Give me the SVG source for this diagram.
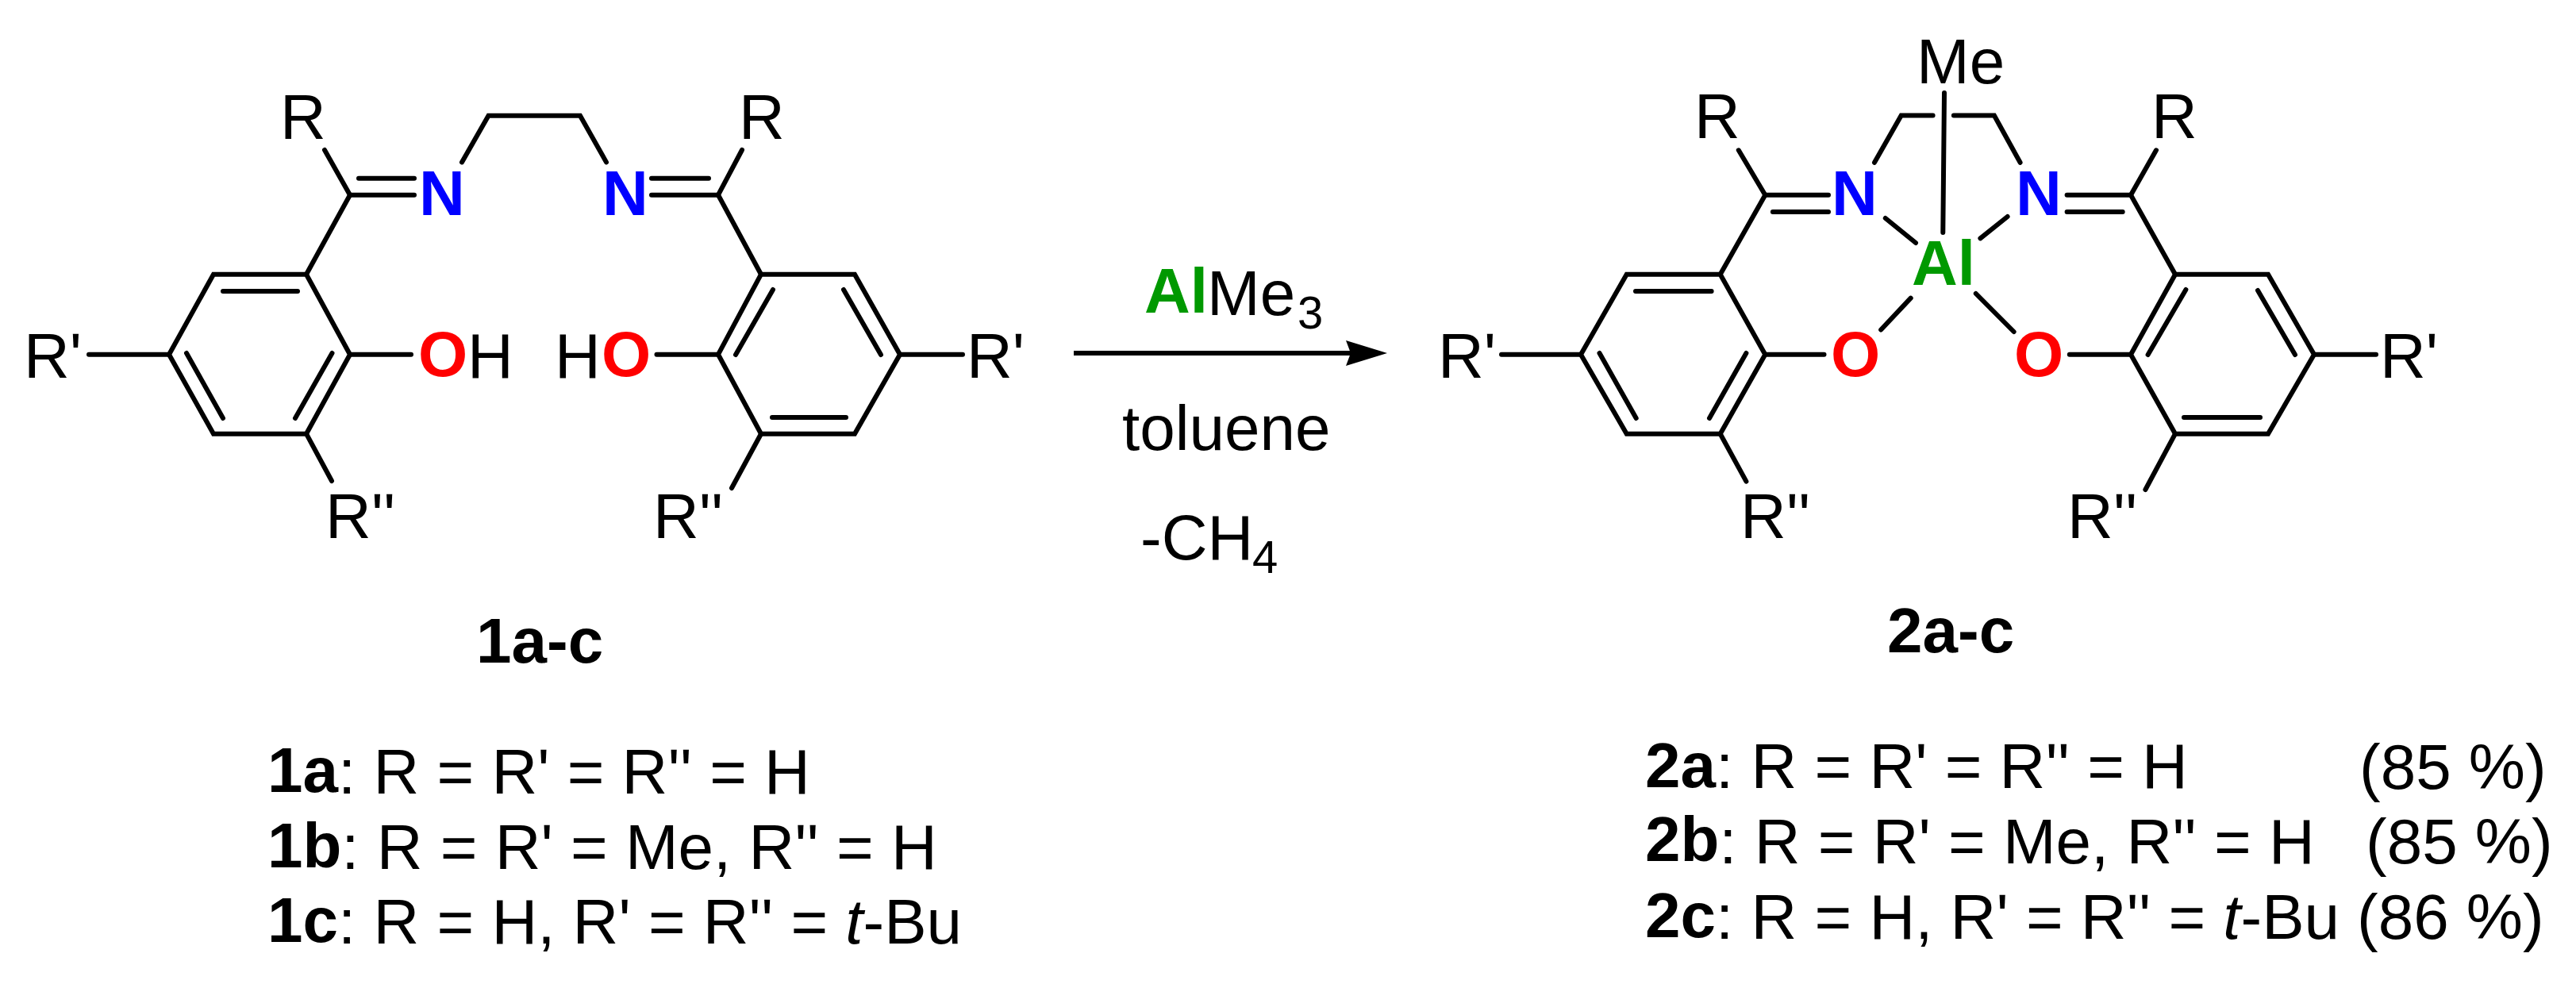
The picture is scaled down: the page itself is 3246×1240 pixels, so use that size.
<svg xmlns="http://www.w3.org/2000/svg" width="3246" height="1240" viewBox="0 0 3246 1240">
<style>
text{font-family:"Liberation Sans",Arial,sans-serif;font-size:80px;fill:#000}
.b{font-weight:bold}
.i{font-style:italic}
.n{fill:#0000FF;font-weight:bold}
.o{fill:#FF0000;font-weight:bold}
.al{fill:#009900;font-weight:bold}
.s{font-size:58px}
#connectors line,#connectors polyline{stroke:#000;stroke-width:6;fill:none;stroke-linecap:round;stroke-linejoin:miter}
#connectors polygon{stroke:#000;stroke-width:6;fill:none;stroke-linejoin:miter}
</style>
<defs>
<marker id="head" markerUnits="userSpaceOnUse" markerWidth="60" markerHeight="40" refX="6" refY="20" orient="auto"><path d="M0 4L52 20L0 36L6 20Z" fill="#000"/></marker>
</defs>
<rect width="3246" height="1240" fill="#fff"/>
<g id="connectors">
<g id="bonds-1">
<polygon points="269,345.700 386,345.700 441,446.700 386,546.700 269,546.700 213,446.700"/>
<line x1="281" y1="367" x2="375" y2="367"/>
<line x1="418.500" y1="445" x2="372" y2="527"/>
<line x1="235" y1="445" x2="281" y2="527"/>
<line x1="441" y1="245.700" x2="386" y2="345.700"/>
<line x1="409" y1="189" x2="441" y2="245.700"/>
<line x1="441" y1="245.700" x2="522" y2="245.700"/>
<line x1="452" y1="224.700" x2="522" y2="224.700"/>
<line x1="112" y1="446.700" x2="213" y2="446.700"/>
<line x1="441" y1="446.700" x2="518" y2="446.700"/>
<line x1="386" y1="546.700" x2="418" y2="606"/>
<polyline points="582,204.400 615.500,145.800 731,145.800 764,204.400"/>
<line x1="821" y1="224.700" x2="893" y2="224.700"/>
<line x1="821" y1="245.700" x2="905" y2="245.700"/>
<line x1="935" y1="189" x2="905" y2="245.700"/>
<line x1="905" y1="245.700" x2="959" y2="345.700"/>
<polygon points="959,345.700 1077,345.700 1134,446.700 1077,546.700 959,546.700 905,446.700"/>
<line x1="974" y1="365" x2="927" y2="447"/>
<line x1="1063" y1="365" x2="1110" y2="447"/>
<line x1="973" y1="526" x2="1066" y2="526"/>
<line x1="1134" y1="446.700" x2="1213" y2="446.700"/>
<line x1="827.500" y1="446.700" x2="905" y2="446.700"/>
<line x1="959" y1="546.700" x2="922" y2="615"/>
</g>
<g id="arrow">
<line x1="1353" y1="445" x2="1702" y2="445" marker-end="url(#head)" style="stroke-linecap:butt"/>
</g>
<g id="bonds-2">
<polygon points="2049.700,345.700 2167.700,345.700 2224.300,446.700 2167.700,546.700 2049.700,546.700 1992,446.700"/>
<line x1="2061" y1="367" x2="2156.600" y2="367"/>
<line x1="2200.400" y1="445" x2="2154" y2="527"/>
<line x1="2015.500" y1="445" x2="2061.700" y2="527"/>
<line x1="2224.300" y1="245.800" x2="2167.700" y2="345.700"/>
<line x1="2190.800" y1="189.300" x2="2224.300" y2="245.800"/>
<line x1="2224.300" y1="245.800" x2="2304" y2="245.800"/>
<line x1="2233.900" y1="267" x2="2304" y2="267"/>
<polyline points="2362,204.800 2395.700,145.500 2435.600,145.500"/>
<polyline points="2461.900,145.500 2512.900,145.500 2545.600,204.800"/>
<line x1="2450" y1="117" x2="2448.300" y2="293"/>
<line x1="2375.800" y1="275" x2="2414" y2="306"/>
<line x1="2529.600" y1="273" x2="2495.400" y2="300.400"/>
<line x1="2407.700" y1="375.600" x2="2370.200" y2="415.500"/>
<line x1="2489.800" y1="370" x2="2537.600" y2="418"/>
<line x1="2224.300" y1="446.700" x2="2298.500" y2="446.700"/>
<line x1="2607.800" y1="446.700" x2="2685" y2="446.700"/>
<polygon points="2741,345.700 2858,345.700 2916,446.700 2858,546.700 2741,546.700 2685,446.700"/>
<line x1="2754.400" y1="365" x2="2706.600" y2="447"/>
<line x1="2845" y1="366" x2="2892" y2="447"/>
<line x1="2752" y1="526" x2="2848" y2="526"/>
<line x1="2685" y1="245.800" x2="2741" y2="345.700"/>
<line x1="2717" y1="189.300" x2="2685" y2="245.800"/>
<line x1="2604.600" y1="245.800" x2="2685" y2="245.800"/>
<line x1="2604.600" y1="267" x2="2674.700" y2="267"/>
<line x1="2916" y1="446.700" x2="2994" y2="446.700"/>
<line x1="2167.700" y1="546.700" x2="2200.400" y2="606.600"/>
<line x1="2741" y1="546.700" x2="2703.400" y2="617"/>
<line x1="1892" y1="446.700" x2="1992" y2="446.700"/>
</g>
</g>
<g id="compound-1">
<text x="353" y="174.500">R</text>
<text x="931" y="174.500">R</text>
<text x="528" y="271" class="n">N</text>
<text x="759" y="271" class="n">N</text>
<text x="527" y="474" class="o">O</text>
<text x="589" y="476">H</text>
<text x="699" y="476">H</text>
<text x="758" y="474" class="o">O</text>
<text x="30" y="476">R'</text>
<text x="1218" y="475.700">R'</text>
<text x="410" y="677.600">R''</text>
<text x="823" y="677.600">R''</text>
</g>
<g id="reagents">
<text x="1442" y="394" class="al">Al</text>
<text x="1521" y="397">Me</text>
<text x="1635" y="414" class="s">3</text>
<text x="1414" y="567">toluene</text>
<text x="1437" y="705">-CH</text>
<text x="1578" y="722" class="s">4</text>
</g>
<g id="compound-2">
<text x="2135" y="174.400">R</text>
<text x="2711" y="174.400">R</text>
<text x="2415" y="104.600">Me</text>
<text x="2308" y="271" class="n">N</text>
<text x="2540" y="271" class="n">N</text>
<text x="2409" y="358.700" class="al">Al</text>
<text x="2307" y="473.500" class="o">O</text>
<text x="2538" y="473.500" class="o">O</text>
<text x="1812" y="475.700">R'</text>
<text x="2999" y="475.700">R'</text>
<text x="2193" y="677.600">R''</text>
<text x="2605" y="677.600">R''</text>
</g>
<g id="label-1"><text x="600" y="835" class="b">1a-c</text></g>
<g id="legend-1">
<text x="337" y="1000"><tspan class="b" dy="-2">1a</tspan><tspan dy="2">: R = R' = R'' = H</tspan></text>
<text x="337" y="1095"><tspan class="b" dy="-2">1b</tspan><tspan dy="2">: R = R' = Me, R'' = H</tspan></text>
<text x="337" y="1189"><tspan class="b" dy="-2">1c</tspan><tspan dy="2">: R = H, R' = R'' = </tspan><tspan class="i">t</tspan><tspan>-Bu</tspan></text>
</g>
<g id="label-2"><text x="2378" y="822" class="b">2a-c</text></g>
<g id="legend-2">
<text x="2073" y="993"><tspan class="b" dy="-1">2a</tspan><tspan dy="1">: R = R' = R'' = H</tspan></text>
<text x="2973" y="994">(85 %)</text>
<text x="2073" y="1088"><tspan class="b" dy="-3">2b</tspan><tspan dy="3">: R = R' = Me, R'' = H</tspan></text>
<text x="2981" y="1088">(85 %)</text>
<text x="2073" y="1183"><tspan class="b" dy="-2">2c</tspan><tspan dy="2">: R = H, R' = R'' = </tspan><tspan class="i">t</tspan><tspan>-Bu</tspan></text>
<text x="2970" y="1183">(86 %)</text>
</g>
</svg>
